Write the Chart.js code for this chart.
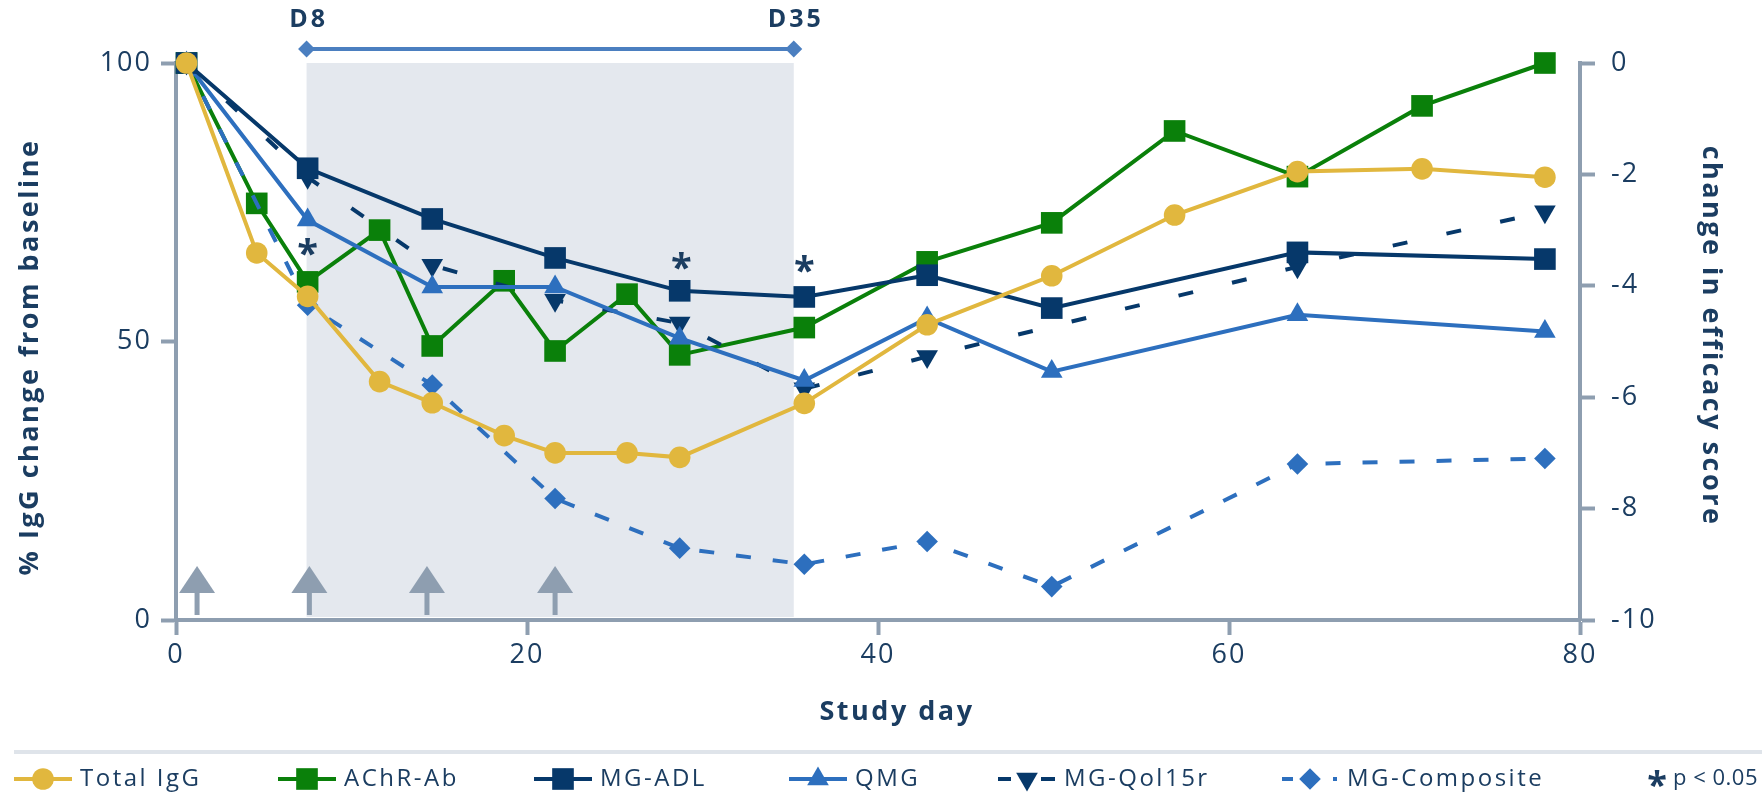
<!DOCTYPE html>
<html>
<head>
<meta charset="utf-8">
<title>IgG and efficacy over study days</title>
<script src="https://cdn.jsdelivr.net/npm/chart.js@4.4.1/dist/chart.umd.min.js"></script>
<style>
    html, body { margin: 0; padding: 0; background: #ffffff; }
    canvas { display: block; }
</style>
</head>
<body>
<canvas id="studyChart" width="1762" height="794"></canvas>
<script>
const allDays = [0.6, 4.6, 7.5, 11.6, 14.6, 18.7, 21.6, 25.7, 28.7, 35.8, 42.8, 49.9, 56.9, 63.9, 71.0, 78.0];
const weeklyDays = [0.6, 7.5, 14.6, 21.6, 28.7, 35.8, 42.8, 49.9, 63.9, 78.0];
const qolDays = [0.6, 7.5, 14.6, 21.6, 28.7, 35.8, 42.8, 63.9, 78.0];

// left axis: % of baseline
const totalIgG = [100, 65.9, 58.1, 42.8, 39.0, 33.1, 30.0, 30.0, 29.2, 38.9, 53.0, 61.8, 72.7, 80.5, 81.0, 79.5];
const achrAb = [100, 74.8, 60.7, 70.0, 49.2, 60.9, 48.3, 58.5, 47.6, 52.5, 64.3, 71.3, 87.8, 79.6, 92.3, 100];

// right axis: change in efficacy score
const mgAdl = [0, -1.89, -2.80, -3.50, -4.09, -4.20, -3.81, -4.40, -3.40, -3.52];
const qmg = [0, -2.82, -4.02, -4.02, -4.94, -5.70, -4.58, -5.54, -4.52, -4.82];
const mgQol = [0, -2.05, -3.63, -4.26, -4.67, -5.85, -5.27, -3.66, -2.67];
const mgComposite = [0, -4.35, -5.78, -7.82, -8.71, -9.00, -8.59, -9.40, -7.20, -7.10];

// p < 0.05 marks (day, left-axis level)
const sigDays = [7.5, 28.8, 35.8];
const sigLevels = [66.7, 64.3, 63.7];

// dosing arrows and treatment window
const doseDays = [1.2, 7.6, 14.3, 21.6];
const windowDays = [7.44, 35.2];
const windowLabels = ["D8", "D35"];

// tick labels
const xTicks = [0, 20, 40, 60, 80];
const yTicks = [0, 50, 100];
const y1Ticks = [0, -2, -4, -6, -8, -10];

const NAVY = "#1b3d61";
const AXIS = "#8e9eb0";
const FONT = "'Open Sans', sans-serif";

function points(days, values) {
    return values.map(function (v, i) { return { x: days[i], y: v }; });
}

function series(label, days, values, color, style, radius, axis, order, dash) {
    return {
        label: label,
        data: points(days, values),
        yAxisID: axis,
        borderColor: color,
        backgroundColor: color,
        borderWidth: 4,
        borderDash: dash || [],
        pointStyle: style,
        pointRadius: radius,
        pointBorderWidth: 0,
        pointBackgroundColor: color,
        tension: 0,
        clip: false,
        order: order
    };
}

const datasets = [
    series("Total IgG", allDays, totalIgG, "#e1b73e", "circle", 10.8, "y", 0),
    series("AChR-Ab", allDays, achrAb, "#0a800a", "rect", 15.3, "y", 5),
    series("MG-ADL", weeklyDays, mgAdl, "#06386a", "rect", 15.3, "y1", 1),
    series("QMG", weeklyDays, qmg, "#2d6fbe", "triangle", 12.5, "y1", 2),
    series("MG-Qol15r", qolDays, mgQol, "#06386a", "triangle", 12.5, "y1", 3, [15, 40]),
    series("MG-Composite", weeklyDays, mgComposite, "#2d6fbe", "rectRot", 10.8, "y1", 4, [15, 22])
];
datasets[4].pointRotation = 180;

// legend marker centres along the bottom strip
const legendX = [43, 307, 563, 818, 1027, 1310];

function drawMarker(ctx, ds, x, y) {
    ctx.fillStyle = ds.backgroundColor;
    Chart.helpers.drawPoint(ctx, {
        pointStyle: ds.pointStyle,
        radius: ds.pointRadius,
        rotation: ds.pointRotation || 0,
        borderWidth: 0
    }, x, y);
}

function drawTitle(ctx, text, x, y, angle) {
    ctx.save();
    ctx.translate(x, y);
    ctx.rotate(angle);
    ctx.fillStyle = NAVY;
    ctx.font = "bold 27px " + FONT;
    ctx.letterSpacing = "2.5px";
    ctx.textAlign = "center";
    ctx.textBaseline = "middle";
    ctx.fillText(text, 0, 0);
    ctx.restore();
}

const decorPlugin = {
    id: "decor",
    beforeDraw: function (chart) {
        chart.ctx.letterSpacing = "2px";
    },
    beforeDatasetsDraw: function (chart) {
        const ctx = chart.ctx;
        const x = chart.scales.x;
        const y = chart.scales.y;
        const x0 = x.getPixelForValue(windowDays[0]);
        const x1 = x.getPixelForValue(windowDays[1]);
        const top = y.getPixelForValue(100);
        const bottom = y.getPixelForValue(0);

        ctx.save();
        ctx.fillStyle = "#e4e8ee";
        ctx.fillRect(x0, top, x1 - x0, bottom - top - 3);

        // dosing arrows
        ctx.fillStyle = AXIS;
        doseDays.forEach(function (d) {
            const cx = x.getPixelForValue(d);
            ctx.beginPath();
            ctx.moveTo(cx, bottom - 54);
            ctx.lineTo(cx + 18, bottom - 27);
            ctx.lineTo(cx - 18, bottom - 27);
            ctx.closePath();
            ctx.fill();
            ctx.fillRect(cx - 2.5, bottom - 28, 5, 23);
        });
        ctx.restore();
    },
    afterDraw: function (chart) {
        const ctx = chart.ctx;
        const x = chart.scales.x;
        const y = chart.scales.y;
        const area = chart.chartArea;
        const barY = area.top - 14;

        // axis titles
        drawTitle(ctx, "% IgG change from baseline", 30, 357, -Math.PI / 2);
        drawTitle(ctx, "change in efficacy score", 1711, 336, Math.PI / 2);
        drawTitle(ctx, "Study day", 897, 712, 0);

        ctx.save();
        // treatment window bar
        const bx0 = x.getPixelForValue(windowDays[0]);
        const bx1 = x.getPixelForValue(windowDays[1]);
        ctx.strokeStyle = "#4b7fc0";
        ctx.fillStyle = "#4b7fc0";
        ctx.lineWidth = 4;
        ctx.beginPath();
        ctx.moveTo(bx0, barY);
        ctx.lineTo(bx1, barY);
        ctx.stroke();
        [bx0, bx1].forEach(function (bx) {
            ctx.beginPath();
            ctx.moveTo(bx, barY - 8.5);
            ctx.lineTo(bx + 8.5, barY);
            ctx.lineTo(bx, barY + 8.5);
            ctx.lineTo(bx - 8.5, barY);
            ctx.closePath();
            ctx.fill();
        });

        ctx.fillStyle = NAVY;
        ctx.font = "bold 25px " + FONT;
        ctx.letterSpacing = "3px";
        ctx.textAlign = "center";
        ctx.textBaseline = "middle";
        windowLabels.forEach(function (t, i) {
            ctx.fillText(t, x.getPixelForValue(windowDays[i]) + 2, barY - 29);
        });

        // significance stars
        ctx.letterSpacing = "0px";
        ctx.font = "bold 38px " + FONT;
        ctx.textBaseline = "alphabetic";
        sigDays.forEach(function (d, i) {
            ctx.fillText("*", x.getPixelForValue(d), y.getPixelForValue(sigLevels[i]) + 19);
        });

        // legend strip
        const ly = 779;
        ctx.strokeStyle = "#dfe4ea";
        ctx.lineWidth = 4;
        ctx.beginPath();
        ctx.moveTo(14, 752);
        ctx.lineTo(1762, 752);
        ctx.stroke();

        chart.data.datasets.forEach(function (ds, i) {
            const cx = legendX[i];
            ctx.strokeStyle = ds.borderColor;
            ctx.lineWidth = 4;
            ctx.beginPath();
            if (ds.borderDash.length === 0) {
                ctx.moveTo(cx - 29, ly);
                ctx.lineTo(cx + 29, ly);
            } else if (ds.pointStyle === "triangle") {
                ctx.moveTo(cx - 29, ly); ctx.lineTo(cx - 16, ly);
                ctx.moveTo(cx + 14, ly); ctx.lineTo(cx + 28, ly);
            } else {
                ctx.moveTo(cx - 28, ly); ctx.lineTo(cx - 17, ly);
                ctx.moveTo(cx + 23, ly); ctx.lineTo(cx + 27, ly);
            }
            ctx.stroke();
            drawMarker(ctx, ds, cx, ly);

            ctx.fillStyle = NAVY;
            ctx.font = "24px " + FONT;
            ctx.letterSpacing = "2.5px";
            ctx.textAlign = "left";
            ctx.textBaseline = "middle";
            ctx.fillText(ds.label, cx + 37, ly);
        });

        ctx.font = "bold 36px " + FONT;
        ctx.letterSpacing = "0px";
        ctx.textAlign = "center";
        ctx.textBaseline = "alphabetic";
        ctx.fillText("*", 1657, ly + 18);
        ctx.font = "22px " + FONT;
        ctx.letterSpacing = "0.5px";
        ctx.textAlign = "left";
        ctx.textBaseline = "middle";
        ctx.fillText("p < 0.05", 1673, ly);
        ctx.restore();
    }
};

function axisGrid() {
    return {
        drawOnChartArea: false,
        drawTicks: true,
        tickLength: 15,
        tickWidth: 4,
        tickColor: AXIS,
        color: AXIS
    };
}

const tickFont = { family: FONT, size: 27 };

const ctx = document.getElementById("studyChart").getContext("2d");

new Chart(ctx, {
    type: "line",
    data: { datasets: datasets },
    plugins: [decorPlugin],
    options: {
        responsive: false,
        animation: false,
        layout: { padding: { top: 63, left: 0, right: 0, bottom: 60 } },
        plugins: {
            legend: { display: false },
            tooltip: { enabled: false }
        },
        scales: {
            x: {
                type: "linear",
                min: 0,
                max: 80,
                afterBuildTicks: function (s) { s.ticks = xTicks.map(function (v) { return { value: v }; }); },
                afterFit: function (s) { s.height = 114; },
                border: { color: AXIS, width: 4 },
                grid: axisGrid(),
                ticks: { font: tickFont, color: NAVY, padding: 4, maxRotation: 0 }
            },
            y: {
                type: "linear",
                position: "left",
                min: 0,
                max: 100,
                afterBuildTicks: function (s) { s.ticks = yTicks.map(function (v) { return { value: v }; }); },
                afterFit: function (s) { s.width = 176; },
                border: { color: AXIS, width: 4 },
                grid: axisGrid(),
                ticks: { font: tickFont, color: NAVY, padding: 9 }
            },
            y1: {
                type: "linear",
                position: "right",
                min: -10,
                max: 0,
                afterBuildTicks: function (s) { s.ticks = y1Ticks.map(function (v) { return { value: v }; }); },
                afterFit: function (s) { s.width = 182; },
                border: { color: AXIS, width: 4 },
                grid: axisGrid(),
                ticks: { font: tickFont, color: NAVY, padding: 16 }
            }
        }
    }
});
</script>
</body>
</html>
